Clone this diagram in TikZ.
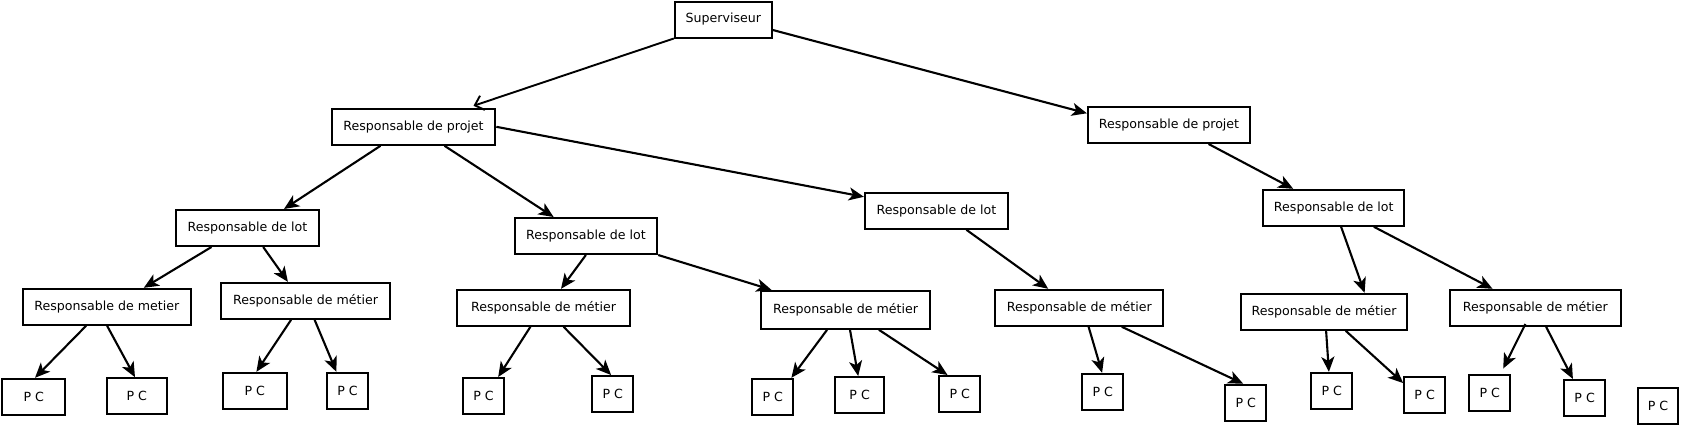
\documentclass[tikz,border=0pt]{standalone}
\usepackage{fontspec}
\setmainfont{DejaVu Sans}
\usetikzlibrary{arrows.meta}
\begin{document}
\begin{tikzpicture}[x=1pt,y=-1pt,
  box/.style={draw=black,line width=2pt,rectangle,inner sep=0pt,minimum height=36pt,font=\fontsize{12.6}{14}\selectfont},
  conn/.style={line width=2.1pt,-{Stealth[length=15pt,width=13pt,inset=4pt]}},
  openconn/.style={line width=1.9pt,-{Straight Barb[length=8pt,width=15pt,line width=1.9pt]}}]
\useasboundingbox (0,0) rectangle (1687,426);
% level 0
\node[box,minimum width=97pt] (sup) at (723.3,19.5) {Superviseur};
% level 1
\node[box,minimum width=163.7pt] (rp1) at (413.5,126.8) {Responsable de projet};
\node[box,minimum width=162.3pt] (rp2) at (1169,125) {Responsable de projet};
% level 2
\node[box,minimum width=143pt] (rl1) at (247.5,228) {Responsable de lot};
\node[box,minimum width=142.6pt] (rl2) at (585.9,236) {Responsable de lot};
\node[box,minimum width=143pt] (rl3) at (936.4,210.8) {Responsable de lot};
\node[box,minimum width=141.3pt] (rl4) at (1333.8,207.8) {Responsable de lot};
% level 3
\node[box,minimum width=168pt] (m1) at (106.8,306.8) {Responsable de metier};
\node[box,minimum width=168.3pt] (m2) at (305.5,300.8) {Responsable de métier};
\node[box,minimum width=172.3pt] (m3) at (543.6,307.8) {Responsable de métier};
\node[box,minimum width=168.3pt,minimum height=38pt] (m4) at (845.5,309.8) {Responsable de métier};
\node[box,minimum width=168pt] (m5) at (1079.3,307.8) {Responsable de métier};
\node[box,minimum width=166.2pt] (m6) at (1324.1,311.8) {Responsable de métier};
\node[box,minimum width=170.9pt] (m7) at (1535.4,307.8) {Responsable de métier};
% level 4
\node[box,minimum width=63.3pt] (pc1) at (33.8,396.8) {P C};
\node[box,minimum width=60.2pt] (pc2) at (136.8,396.2) {P C};
\node[box,minimum width=64.1pt] (pc3) at (254.8,390.8) {P C};
\node[box,minimum width=41.6pt] (pc4) at (347.5,390.8) {P C};
\node[box,minimum width=41.6pt] (pc5) at (483.6,396) {P C};
\node[box,minimum width=41.2pt] (pc6) at (612.7,394) {P C};
\node[box,minimum width=41.2pt] (pc7) at (772.7,396.8) {P C};
\node[box,minimum width=48.7pt] (pc8) at (859.6,395) {P C};
\node[box,minimum width=41.2pt] (pc9) at (959.8,394) {P C};
\node[box,minimum width=41.3pt] (pc10) at (1102.7,391.8) {P C};
\node[box,minimum width=40.8pt] (pc11) at (1245.7,402.7) {P C};
\node[box,minimum width=40.8pt] (pc12) at (1331.8,390.8) {P C};
\node[box,minimum width=40.9pt] (pc13) at (1424.6,395) {P C};
\node[box,minimum width=41.2pt] (pc14) at (1489.8,393) {P C};
\node[box,minimum width=40.9pt] (pc15) at (1584.6,398) {P C};
\node[box,minimum width=39.8pt] (pc16) at (1658,406) {P C};
% connectors
\draw[openconn] (sup.south west) -- ([xshift=60pt,yshift=2pt]rp1.north);
\draw[conn] ([yshift=-10.5pt]sup.east) -- ([yshift=11.7pt]rp2.west);
\draw[conn] ([xshift=-33pt]rp1.south) -- ([xshift=36.5pt]rl1.north);
\draw[conn] ([xshift=31pt]rp1.south) -- ([xshift=-32.3pt]rl2.north);
\draw[conn] (rp1.east) -- ([yshift=14pt]rl3.west);
\draw[conn] ([xshift=-36pt]rl1.south) -- ([xshift=37pt]m1.north);
\draw[conn] ([xshift=15.7pt]rl1.south) -- ([xshift=-17.6pt]m2.north);
\draw[conn] ([xshift=-20.7pt]m1.south) -- ([xshift=1.2pt]pc1.north);
\draw[conn] ([xshift=0.3pt]m1.south) -- ([xshift=-1.8pt]pc2.north);
\draw[conn] ([xshift=-14.4pt]m2.south) -- ([xshift=1.6pt]pc3.north);
\draw[conn] ([xshift=9.1pt]m2.south) -- ([xshift=-11.1pt]pc4.north);
\draw[conn] (rl2.south) -- ([xshift=17.4pt]m3.north);
\draw[conn] ([xshift=-13.2pt]m3.south) -- ([xshift=14.6pt]pc5.north);
\draw[conn] ([xshift=20pt]m3.south) -- ([xshift=-1.6pt]pc6.north);
\draw[conn] (rl2.south east) -- ([xshift=-74.1pt]m4.north);
\draw[conn] ([xshift=-18.4pt]m4.south) -- ([xshift=18.7pt]pc7.north);
\draw[conn] ([xshift=4.5pt]m4.south) -- ([xshift=-1.4pt]pc8.north);
\draw[conn] ([xshift=33.4pt]m4.south) -- ([xshift=-12.3pt]pc9.north);
\draw[conn] ([xshift=30pt]rl3.south) -- ([xshift=-31.1pt]m5.north);
\draw[conn] ([xshift=9.3pt]m5.south) -- ([xshift=-0.6pt]pc10.north);
\draw[conn] ([xshift=42.5pt]m5.south) -- ([xshift=-2.5pt]pc11.north);
\draw[conn] ([xshift=39.6pt]rp2.south) -- ([xshift=-40.6pt]rl4.north);
\draw[conn] ([xshift=7.3pt]rl4.south) -- ([xshift=40.5pt]m6.north);
\draw[conn] ([xshift=40.1pt]rl4.south) -- ([xshift=-42.9pt]m7.north);
\draw[conn] ([xshift=2pt]m6.south) -- ([xshift=-2.9pt]pc12.north);
\draw[conn] ([xshift=21.6pt]m6.south) -- ([yshift=-7pt]pc13.north west);
\draw[conn] ([xshift=-10pt,yshift=2.8pt]m7.south) -- ([xshift=13.4pt,yshift=5.5pt]pc14.north);
\draw[conn] ([xshift=10.7pt]m7.south) -- ([xshift=-11.7pt]pc15.north);
\end{tikzpicture}
\end{document}
